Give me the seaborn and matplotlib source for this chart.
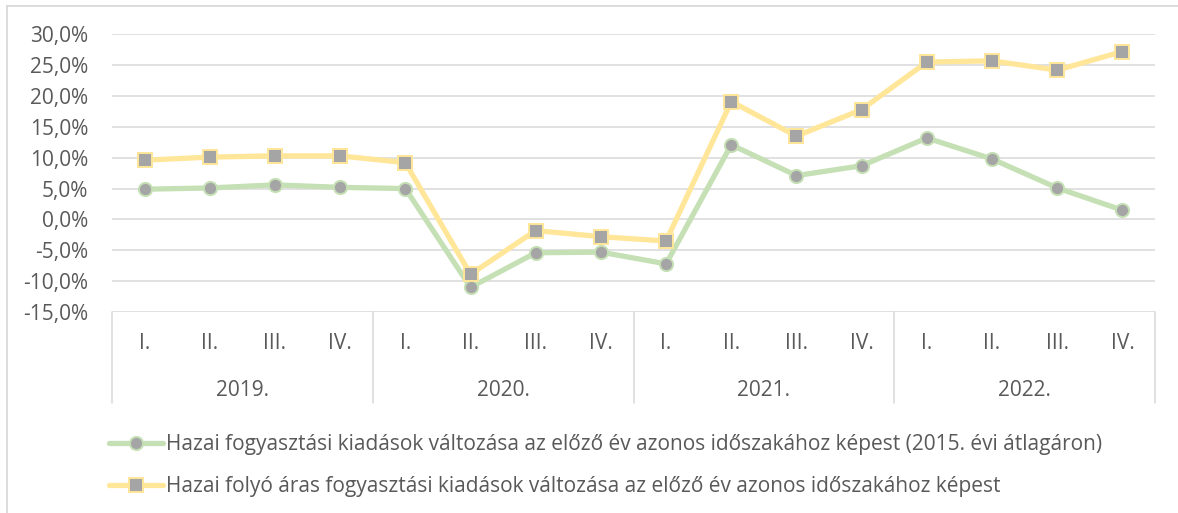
import matplotlib
matplotlib.use('Agg')
import pandas as pd
import matplotlib.pyplot as plt
import seaborn as sns
from matplotlib.lines import Line2D
from matplotlib.ticker import FuncFormatter

evek = ['2019.', '2020.', '2021.', '2022.']
negyedevek = ['I.', 'II.', 'III.', 'IV.']

nev_volumen = 'Hazai fogyasztási kiadások változása az előző év azonos időszakához képest (2015. évi átlagáron)'
nev_folyo = 'Hazai folyó áras fogyasztási kiadások változása az előző év azonos időszakához képest'

volumen = [4.9, 5.1, 5.6, 5.2, 5.0, -11.0, -5.4, -5.3,
           -7.2, 12.1, 7.1, 8.7, 13.2, 9.8, 5.1, 1.5]
folyo_aras = [9.6, 10.1, 10.3, 10.3, 9.2, -8.9, -1.8, -2.8,
              -3.5, 19.1, 13.5, 17.8, 25.5, 25.7, 24.2, 27.2]

idoszak = [(ev, n) for ev in evek for n in negyedevek]
dados = pd.DataFrame({
    'pos': list(range(len(idoszak))) * 2,
    'ertek': volumen + folyo_aras,
    'sor': [nev_volumen] * len(volumen) + [nev_folyo] * len(folyo_aras),
})

sns.set_theme(style='white')
plt.rcParams['font.family'] = ['Open Sans', 'DejaVu Sans']
szurke = '#595959'
racs = '#D9D9D9'
zold = '#C5E0B4'
sarga = '#FFE699'
pont = '#A5A5A5'
betu = 15

fig = plt.figure(figsize=(11.78, 5.13), dpi=100)
ax = fig.add_axes([112 / 1178, 1 - 312 / 513, (1155 - 112) / 1178, (312 - 34.3) / 513])

stilus = {nev_volumen: (zold, 'o', 9.5), nev_folyo: (sarga, 's', 9.5)}
for nev, (szin, jel, meret) in stilus.items():
    sns.lineplot(data=dados[dados['sor'] == nev], x='pos', y='ertek', ax=ax,
                 color=szin, linewidth=3.8, marker=jel, markersize=meret,
                 markerfacecolor=pont, markeredgecolor=szin, markeredgewidth=1.4,
                 label=nev, legend=False)

ax.set_xlim(-0.5, len(idoszak) - 0.5)
ax.set_ylim(-15, 30)
ax.set_yticks(range(-15, 31, 5))
ax.yaxis.set_major_formatter(FuncFormatter(lambda v, p: f'{v:.1f}%'.replace('.', ',')))
ax.tick_params(axis='y', length=0, pad=17, labelsize=betu, labelcolor=szurke)
ax.set_xticks([])
ax.set_xlabel('')
ax.set_ylabel('')
ax.grid(axis='y', color=racs, linewidth=1.1)
ax.set_axisbelow(True)
for s in ax.spines.values():
    s.set_visible(False)

# ketszintu kategoria tengely
tr = ax.get_xaxis_transform()
for i, (ev, n) in enumerate(idoszak):
    ax.text(i, -0.112, n, transform=tr, ha='center', va='center', fontsize=betu, color=szurke)
for j, ev in enumerate(evek):
    ax.text(j * 4 + 1.5, -0.281, ev, transform=tr, ha='center', va='center', fontsize=betu, color=szurke)
for j in range(len(evek) + 1):
    ax.add_line(Line2D([j * 4 - 0.5] * 2, [0, -0.328], transform=tr, color=racs,
                       linewidth=1.1, clip_on=False))

# keret
fig.add_artist(Line2D([7 / 1178, 1], [1 - 5.5 / 513] * 2, color=racs, linewidth=1.3))
fig.add_artist(Line2D([7 / 1178] * 2, [0, 1 - 5.5 / 513], color=racs, linewidth=1.3))

h, l = ax.get_legend_handles_labels()
leg = fig.legend(h, l, loc='upper left', bbox_to_anchor=(99 / 1178, 1 - 424 / 513),
                 frameon=False, fontsize=betu, handlelength=2.55, handletextpad=0.15,
                 labelspacing=1.0, borderpad=0)
for t in leg.get_texts():
    t.set_color(szurke)

plt.savefig('out.png', dpi=100)
plt.close()
